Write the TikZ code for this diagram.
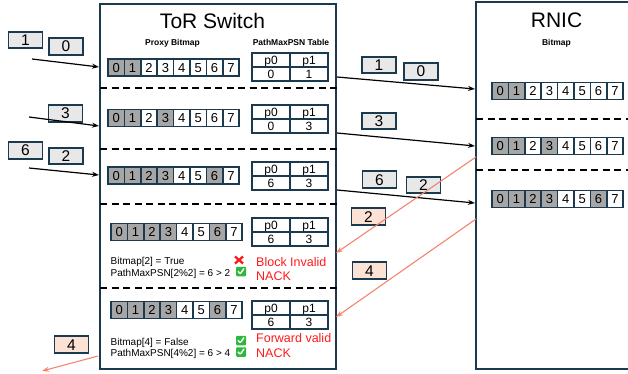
\documentclass[tikz,border=0pt]{standalone}
\usepackage{fontspec}
\setmainfont{Liberation Sans}
\usetikzlibrary{arrows.meta}
\definecolor{nicedge}{HTML}{1C3A4E}
\definecolor{bitgray}{HTML}{A6A6A6}
\definecolor{pktgray}{HTML}{E8E8E8}
\definecolor{nackfill}{HTML}{FBE2D5}
\definecolor{nackline}{HTML}{F4846F}
\definecolor{nackred}{HTML}{FF1A1A}
\definecolor{okgreen}{HTML}{2DB83D}

% eight bitmap cells: name, left x, centre y, fill list
\newcommand{\bitrow}[4]{%
  \foreach \s [count=\i from 0] in {#4}
    \node[cell, \s] (#1-\i) at ({#2+16.4*\i+8.2}, #3) {\i};}
% 2x2 PathMaxPSN table: name, left x, top y, p0 value, p1 value
\newcommand{\psntable}[5]{%
  \node[tcell] (#1-h0) at ({#2+19}, {#3+7}) {p0};
  \node[tcell] (#1-h1) at ({#2+57}, {#3+7}) {p1};
  \node[tcell] (#1-v0) at ({#2+19}, {#3+21}) {#4};
  \node[tcell] (#1-v1) at ({#2+57}, {#3+21}) {#5};}

\begin{document}
\begin{tikzpicture}[x=1pt, y=-1pt,
  unit/.style = {draw=nicedge, line width=1.3pt, inner sep=0pt},
  title/.style = {font=\fontsize{21}{21}\selectfont},
  colhead/.style = {anchor=base, font=\bfseries\fontsize{8.5}{8.5}\selectfont},
  cell/.style = {draw=nicedge, line width=1.6pt, minimum width=16.4pt,
                 minimum height=17pt, inner sep=0pt, text height=9.3pt, text depth=0pt,
                 font=\fontsize{13}{13}\selectfont},
  rcv/.style = {fill=bitgray},
  nil/.style = {fill=white},
  tcell/.style = {draw=nicedge, line width=1.6pt, minimum width=38pt, minimum height=14pt,
                  inner sep=0pt, text height=8.6pt, text depth=0pt,
                  font=\fontsize{12}{12}\selectfont},
  pkt/.style = {draw=nicedge, line width=1.6pt, fill=pktgray, minimum width=34pt,
                minimum height=16.5pt, inner sep=0pt, text height=11pt, text depth=0pt,
                font=\fontsize{15.5}{15.5}\selectfont},
  nack/.style = {pkt, fill=nackfill},
  sepline/.style = {line width=1.3pt, dash pattern=on 7pt off 4.5pt},
  cond/.style = {anchor=west, align=left, inner sep=0pt, font=\fontsize{10}{11.5}\selectfont},
  verdict/.style = {anchor=west, align=left, inner sep=0pt, text=nackred,
                    font=\fontsize{12.5}{14.5}\selectfont},
  crossmk/.style = {minimum width=11pt, minimum height=10pt, inner sep=0pt,
    path picture={\draw[nackred, line width=2.3pt]
      ([shift={(1.5pt,1.5pt)}]path picture bounding box.south west) --
      ([shift={(-1.5pt,-1.5pt)}]path picture bounding box.north east)
      ([shift={(1.5pt,-1.5pt)}]path picture bounding box.north west) --
      ([shift={(-1.5pt,1.5pt)}]path picture bounding box.south east);}},
  okmk/.style = {fill=okgreen, rounded corners=1pt, minimum width=10pt,
    minimum height=9.5pt, inner sep=0pt,
    path picture={\draw[white, line width=1.4pt, line join=round]
      ([shift={(2pt,5pt)}]path picture bounding box.south west) --
      ([shift={(4.2pt,2.3pt)}]path picture bounding box.south west) --
      ([shift={(8pt,7.8pt)}]path picture bounding box.south west);}},
  fwd/.style = {-{Stealth[length=7pt, width=5pt]}, line width=1.2pt},
  ret/.style = {-{Stealth[length=7pt, width=5pt]}, line width=1.1pt, draw=nackline},
]
\clip (0,0) rectangle (628,374);

% ---------- the two devices ----------
\node[unit, minimum width=236pt, minimum height=365pt] (tor) at (218,186.5) {};
\node[unit, minimum width=200pt, minimum height=367pt] (rnic) at (576,185.5) {};
\node[title] (torname) at (212.5,20.5) {ToR Switch};
\node[title] (rnicname) at (556.5,20) {RNIC};
\node[colhead] (bmhead) at (172.5,46) {Proxy Bitmap};
\node[colhead] (pshead) at (291,46) {PathMaxPSN Table};
\node[colhead] (rbhead) at (556.5,46) {Bitmap};

% ---------- switch state, one band per packet ----------
\bitrow{sw1}{108}{67.5}{rcv,rcv,nil,nil,nil,nil,nil,nil}
\bitrow{sw2}{108}{118}{rcv,rcv,nil,rcv,nil,nil,nil,nil}
\bitrow{sw3}{108}{175.5}{rcv,rcv,rcv,rcv,nil,nil,rcv,nil}
\bitrow{sw4}{111}{232}{rcv,rcv,rcv,rcv,nil,nil,rcv,nil}
\bitrow{sw5}{111}{310}{rcv,rcv,rcv,rcv,nil,nil,rcv,nil}

\psntable{tb1}{252}{53}{0}{1}
\psntable{tb2}{252}{105}{0}{3}
\psntable{tb3}{252}{162}{6}{3}
\psntable{tb4}{252}{218}{6}{3}
\psntable{tb5}{252}{301}{6}{3}

\draw[sepline] (100,88) -- (338,88);
\draw[sepline] (100,149) -- (338,149);
\draw[sepline] (100,204) -- (338,204);
\draw[sepline] (100,288) -- (338,288);

% NACK checks
\node[cond] (why2) at (110.5,268) {Bitmap[2] = True\\PathMaxPSN[2\%2] = 6 > 2};
\node[crossmk] (no2) at (239,260) {};
\node[okmk] (ok2) at (241,271.5) {};
\node[verdict] (res2) at (256,269) {Block Invalid\\NACK};

\node[cond] (why4) at (110.5,348.5) {Bitmap[4] = False\\PathMaxPSN[4\%2] = 6 > 4};
\node[okmk] (ok4a) at (241,340.5) {};
\node[okmk] (ok4b) at (241,352) {};
\node[verdict] (res4) at (256,345.5) {Forward valid\\NACK};

% ---------- RNIC bitmaps ----------
\bitrow{rn1}{492}{91}{rcv,rcv,nil,nil,nil,nil,nil,nil}
\bitrow{rn2}{492}{146}{rcv,rcv,nil,rcv,nil,nil,nil,nil}
\bitrow{rn3}{492}{199}{rcv,rcv,rcv,rcv,nil,nil,rcv,nil}
\draw[sepline] (476,119) -- (632,119);
\draw[sepline] (476,170) -- (632,170);

% ---------- packets: PSN and path ----------
\node[pkt] (pin1) at (25.5,40) {1};
\node[pkt] (pin0) at (66,46.5) {0};
\node[pkt] (pin3) at (65.5,113.5) {3};
\node[pkt] (pin6) at (25.5,150.5) {6};
\node[pkt] (pin2) at (66,156) {2};

\node[pkt] (pout1) at (379,65) {1};
\node[pkt] (pout0) at (421,71.5) {0};
\node[pkt] (pout3) at (379,121) {3};
\node[pkt] (pout6) at (379.5,179.5) {6};
\node[pkt] (pout2) at (423.5,185) {2};

\node[nack] (nack2) at (368.5,216.5) {2};
\node[nack] (nack4) at (369.5,270.5) {4};
\node[nack] (nack4b) at (71.5,344.5) {4};

% arrival at the switch
\coordinate (a1) at (32,59);   \coordinate (b1) at (99,67);
\coordinate (a2) at (29,117);  \coordinate (b2) at (99,126);
\coordinate (a3) at (29,168);  \coordinate (b3) at (99,175);
\draw[fwd] (a1) -- (b1);
\draw[fwd] (a2) -- (b2);
\draw[fwd] (a3) -- (b3);

% forwarded to the RNIC
\coordinate (c1) at (337,77);  \coordinate (d1) at (475,89);
\coordinate (c2) at (337,133); \coordinate (d2) at (475,146);
\coordinate (c3) at (337,190); \coordinate (d3) at (475,203);
\draw[fwd] (c1) -- (d1);
\draw[fwd] (c2) -- (d2);
\draw[fwd] (c3) -- (d3);

% NACKs coming back
\coordinate (e1) at (476,157); \coordinate (f1) at (336,253);
\coordinate (e2) at (476,219); \coordinate (f2) at (336,317);
\coordinate (e3) at (98,356);  \coordinate (f3) at (42,371);
\draw[ret] (e1) -- (f1);
\draw[ret] (e2) -- (f2);
\draw[ret] (e3) -- (f3);

\end{tikzpicture}
\end{document}
